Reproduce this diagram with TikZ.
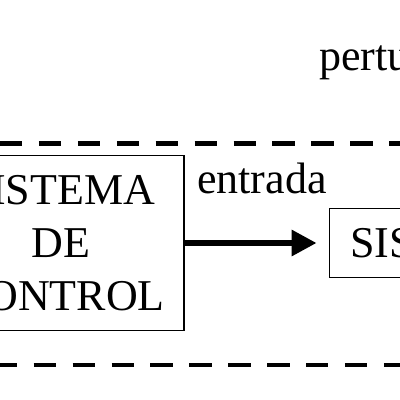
\documentclass[tikz,border=0pt]{standalone}
\usepackage{fontspec}
\setmainfont{Liberation Serif}
\usetikzlibrary{arrows.meta,positioning}

\begin{document}
\begin{tikzpicture}[x=1pt,y=-1pt,>={Triangle[length=25pt,width=25pt]},
                    font=\fontsize{44}{53}\selectfont,
                    blk/.style={draw,line width=1.2pt,align=center,inner sep=0pt},
                    frame/.style={line width=4.5pt,dash pattern=on 22.4pt off 16.5pt}]

  \useasboundingbox (0,0) rectangle (400,400);
  \clip (0,0) rectangle (400,400);

  \node[blk,minimum width=246pt,minimum height=175pt] (ctrl) at (61,243)
        {SISTEMA\\DE\\CONTROL};
  \node[blk,minimum height=69pt,inner xsep=21pt] (sys) [right=144pt of ctrl] {SISTEMA};
  \node[anchor=base west,inner sep=0pt] (entr) at (197,193) {entrada};
  \node[anchor=base west,inner sep=0pt] (pert) at (319,70) {perturbação};

  \draw[->,line width=6pt,shorten >=12pt] (ctrl) -- (sys);

  % limits of the closed loop
  \draw[frame,dash phase=5.6pt] (-500,143.3) -- (900,143.3);
  \draw[frame,dash phase=10.9pt] (-500,365) -- (900,365);
\end{tikzpicture}
\end{document}
